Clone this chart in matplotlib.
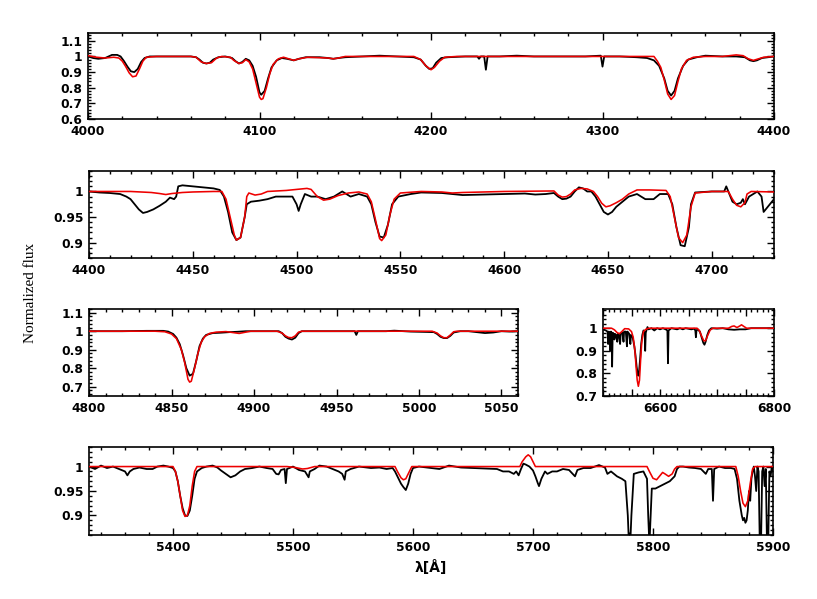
import matplotlib
matplotlib.use("Agg")
import matplotlib.pyplot as plt
from matplotlib.ticker import MultipleLocator, FuncFormatter

# ---------------- Panel 1: 4000-4400 ----------------
obs1_wl = [4000, 4003, 4006, 4010, 4014, 4017, 4019, 4021, 4023, 4025, 4027, 4029, 4031, 4033, 4036,
           4040, 4050, 4060, 4063, 4065, 4067, 4069, 4071, 4073, 4076, 4080, 4084, 4086, 4088, 4090,
           4092, 4094, 4096, 4098, 4100, 4101, 4103, 4105, 4107, 4110, 4113, 4116, 4118, 4120, 4123,
           4127, 4135, 4140, 4143, 4146, 4150, 4160, 4170, 4180, 4190, 4194, 4197, 4199, 4201, 4203,
           4206, 4210, 4220, 4227, 4228, 4229, 4231, 4232, 4233, 4240, 4250, 4260, 4270, 4280, 4290,
           4299, 4300, 4301, 4310, 4320, 4326, 4330, 4333, 4336, 4338, 4340, 4342, 4344, 4347, 4350,
           4355, 4360, 4370, 4378, 4383, 4386, 4388, 4390, 4393, 4400]
obs1_fx = [1.0, 0.99, 0.985, 0.99, 1.01, 1.01, 1.0, 0.97, 0.935, 0.905, 0.9, 0.92, 0.965, 0.99, 1.0,
           1.0, 1.0, 1.0, 0.995, 0.98, 0.96, 0.955, 0.96, 0.98, 0.995, 1.0, 0.99, 0.97, 0.955, 0.965,
           0.985, 0.975, 0.94, 0.87, 0.77, 0.755, 0.78, 0.86, 0.93, 0.975, 0.99, 0.985, 0.98, 0.975, 0.985,
           0.995, 0.995, 0.99, 0.985, 0.99, 0.995, 1.0, 1.005, 1.0, 0.995, 0.98, 0.94, 0.92, 0.925, 0.96,
           0.99, 0.995, 1.0, 1.0, 0.985, 1.0, 1.0, 0.915, 1.0, 1.0, 1.005, 1.0, 1.0, 1.0, 1.0,
           1.005, 0.935, 1.0, 1.0, 0.995, 0.99, 0.975, 0.94, 0.86, 0.78, 0.75, 0.78, 0.86, 0.94, 0.98,
           0.995, 1.005, 1.0, 1.0, 0.995, 0.975, 0.97, 0.975, 0.99, 1.0]
mod1_wl = [4000, 4005, 4010, 4015, 4018, 4020, 4022, 4024, 4026, 4028, 4030, 4032, 4034, 4040, 4060,
           4063, 4066, 4069, 4072, 4075, 4078, 4083, 4085, 4088, 4090, 4092, 4094, 4096, 4098, 4100,
           4101, 4102, 4104, 4106, 4108, 4111, 4114, 4117, 4120, 4123, 4128, 4140, 4143, 4146, 4150,
           4190, 4194, 4197, 4200, 4202, 4205, 4208, 4215, 4330, 4332, 4334, 4336, 4338, 4340, 4342,
           4344, 4346, 4349, 4353, 4360, 4370, 4374, 4378, 4382, 4385, 4388, 4391, 4394, 4400]
mod1_fx = [1.005, 0.995, 0.99, 0.995, 0.99, 0.97, 0.935, 0.895, 0.87, 0.875, 0.92, 0.97, 0.995, 1.0, 1.0,
           0.995, 0.965, 0.955, 0.96, 0.99, 1.0, 0.995, 0.975, 0.955, 0.96, 0.98, 0.965, 0.92, 0.83, 0.74,
           0.725, 0.73, 0.8, 0.89, 0.95, 0.985, 0.995, 0.985, 0.975, 0.985, 0.995, 0.99, 0.985, 0.99, 1.0,
           1.0, 0.98, 0.94, 0.915, 0.93, 0.97, 0.995, 1.0, 1.0, 0.97, 0.93, 0.85, 0.76, 0.725, 0.75,
           0.84, 0.92, 0.975, 0.995, 1.0, 1.0, 1.005, 1.01, 1.005, 0.985, 0.975, 0.985, 0.995, 1.0]

# ---------------- Panel 2: 4400-4730 ----------------
obs2_wl = [4400, 4405, 4410, 4415, 4418, 4420, 4422, 4424, 4426, 4428, 4431, 4434, 4437, 4439, 4441,
           4442, 4443, 4445, 4450, 4455, 4460, 4463, 4465, 4467, 4469, 4471, 4473, 4475, 4476, 4478,
           4482, 4486, 4490, 4495, 4498, 4500, 4501, 4502, 4504, 4507, 4510, 4514, 4518, 4522, 4526,
           4530, 4534, 4536, 4538, 4540, 4542, 4544, 4546, 4549, 4555, 4560, 4570, 4575, 4580, 4590,
           4600, 4610, 4615, 4620, 4624, 4626, 4628, 4630, 4632, 4634, 4636, 4638, 4640, 4642, 4644,
           4646, 4648, 4650, 4652, 4654, 4657, 4660, 4664, 4668, 4672, 4675, 4679, 4681, 4683, 4685,
           4687, 4689, 4690, 4692, 4700, 4706, 4707, 4708, 4710, 4712, 4714, 4715, 4716, 4718, 4722,
           4724, 4725, 4726, 4728, 4730]
obs2_fx = [1.0, 0.998, 0.997, 0.995, 0.99, 0.985, 0.975, 0.965, 0.958, 0.96, 0.965, 0.972, 0.98, 0.988, 0.985,
           0.99, 1.01, 1.012, 1.01, 1.008, 1.006, 1.003, 0.99, 0.96, 0.92, 0.905, 0.91, 0.95, 0.975, 0.98,
           0.982, 0.985, 0.99, 0.99, 0.99, 0.975, 0.962, 0.975, 0.995, 0.99, 0.99, 0.985, 0.99, 1.0, 0.99,
           0.995, 0.99, 0.975, 0.94, 0.912, 0.91, 0.935, 0.975, 0.99, 0.995, 0.998, 0.997, 0.995, 0.993, 0.994,
           0.995, 0.996, 0.994, 0.995, 0.997, 0.99, 0.985, 0.986, 0.99, 1.0, 1.008, 1.006, 1.0, 1.0, 0.99,
           0.975, 0.96, 0.955, 0.96, 0.97, 0.98, 0.99, 0.995, 0.985, 0.985, 0.995, 0.995, 0.975, 0.93, 0.895,
           0.893, 0.93, 0.975, 0.998, 1.0, 1.0, 1.01, 1.0, 0.98, 0.975, 0.978, 0.985, 0.975, 0.99, 1.0,
           0.99, 0.96, 0.965, 0.975, 0.985]
mod2_wl = [4400, 4420, 4430, 4434, 4437, 4440, 4445, 4450, 4460, 4464, 4466, 4468, 4470, 4471, 4473,
           4475, 4476, 4477, 4480, 4483, 4486, 4495, 4505, 4507, 4510, 4513, 4516, 4520, 4525, 4530,
           4534, 4536, 4538, 4540, 4541, 4543, 4545, 4547, 4550, 4560, 4570, 4575, 4580, 4600, 4624,
           4626, 4628, 4630, 4632, 4634, 4637, 4640, 4643, 4645, 4647, 4649, 4651, 4654, 4657, 4660,
           4664, 4670, 4678, 4680, 4682, 4684, 4686, 4688, 4690, 4692, 4700, 4708, 4710, 4712, 4714,
           4716, 4717, 4719, 4730]
mod2_fx = [1.0, 1.0, 0.998, 0.996, 0.994, 0.996, 0.998, 0.999, 1.0, 1.0, 0.985, 0.95, 0.915, 0.905, 0.91,
           0.95, 0.99, 0.997, 0.993, 0.995, 1.0, 1.002, 1.006, 1.004, 0.99, 0.983, 0.985, 0.992, 0.997, 0.999,
           0.995, 0.98, 0.945, 0.908, 0.904, 0.915, 0.955, 0.985, 0.997, 1.0, 0.999, 0.997, 0.998, 1.0, 1.001,
           0.993, 0.989, 0.99, 0.995, 1.003, 1.006, 1.005, 1.0, 0.99, 0.977, 0.97, 0.972, 0.978, 0.985, 0.995,
           1.003, 1.003, 1.002, 0.99, 0.95, 0.91, 0.9, 0.915, 0.97, 0.997, 1.0, 1.0, 0.985, 0.973, 0.97,
           0.978, 0.995, 1.0, 0.999]

# ---------------- Panel 3: 4800-5060 ----------------
obs3_wl = [4800, 4820, 4835, 4845, 4848, 4851, 4853, 4855, 4857, 4859, 4861, 4863, 4865, 4867, 4869,
           4871, 4875, 4880, 4885, 4890, 4895, 4905, 4915, 4917, 4919, 4921, 4923, 4925, 4927, 4929,
           4940, 4961, 4962, 4963, 4980, 4985, 4995, 5005, 5009, 5011, 5013, 5015, 5017, 5019, 5021,
           5025, 5030, 5035, 5040, 5045, 5050, 5055, 5060]
obs3_fx = [1.0, 1.0, 1.002, 1.002, 0.998, 0.985, 0.965, 0.93, 0.87, 0.8, 0.76, 0.77, 0.84, 0.92, 0.96,
           0.98, 0.99, 0.992, 0.995, 0.997, 1.0, 1.0, 1.0, 0.99, 0.97, 0.96, 0.955, 0.965, 0.99, 1.0,
           1.0, 1.0, 0.98, 1.0, 1.0, 1.003, 0.998, 0.996, 0.995, 0.985, 0.97, 0.963, 0.963, 0.975, 0.993,
           1.0, 1.0, 0.995, 0.99, 0.993, 1.0, 0.998, 1.0]
mod3_wl = [4800, 4840, 4846, 4850, 4853, 4856, 4858, 4860, 4861, 4862, 4864, 4866, 4868, 4870, 4873,
           4877, 4883, 4887, 4891, 4895, 4898, 4914, 4917, 4919, 4921, 4923, 4925, 4927, 4929, 5008,
           5011, 5013, 5015, 5017, 5019, 5021, 5023, 5060]
mod3_fx = [1.0, 1.0, 0.997, 0.985, 0.96, 0.9, 0.83, 0.74, 0.725, 0.73, 0.8, 0.88, 0.94, 0.97, 0.988,
           0.995, 0.998, 0.993, 0.988, 0.995, 1.0, 1.0, 0.99, 0.975, 0.966, 0.965, 0.975, 0.995, 1.0, 1.0,
           0.99, 0.975, 0.965, 0.965, 0.98, 0.997, 1.0, 1.0]

# ---------------- Panel 4: 6500-6800 ----------------
obs4_wl = [6500, 6505, 6508, 6509, 6510, 6512, 6513, 6514, 6515, 6516, 6517, 6519, 6520, 6521, 6523,
           6525, 6526, 6528, 6530, 6531, 6534, 6536, 6537, 6540, 6542, 6543, 6546, 6548, 6549, 6552,
           6555, 6557, 6559, 6561, 6562, 6563, 6565, 6567, 6569, 6571, 6573, 6574, 6575, 6578, 6580,
           6585, 6590, 6595, 6600, 6605, 6610, 6613, 6614, 6615, 6620, 6630, 6635, 6640, 6645, 6655,
           6660, 6662, 6663, 6664, 6666, 6670, 6673, 6676, 6678, 6680, 6683, 6686, 6690, 6700, 6710,
           6720, 6730, 6740, 6750, 6760, 6770, 6780, 6790, 6800]
obs4_fx = [0.995, 0.99, 0.985, 0.93, 0.985, 0.98, 0.9, 0.985, 0.98, 0.83, 0.98, 0.975, 0.95, 0.975, 0.97,
           0.94, 0.975, 0.97, 0.93, 0.975, 0.98, 0.94, 0.985, 0.985, 0.92, 0.985, 0.975, 0.93, 0.97, 0.96,
           0.92, 0.88, 0.83, 0.795, 0.79, 0.8, 0.86, 0.93, 0.97, 0.99, 0.985, 0.9, 0.98, 1.005, 0.995,
           1.0, 0.99, 1.0, 0.995, 1.0, 0.995, 0.99, 0.845, 0.99, 1.0, 0.995, 1.0, 0.995, 1.0, 0.995,
           0.998, 0.99, 0.96, 0.99, 0.995, 0.985, 0.96, 0.935, 0.927, 0.94, 0.97, 0.99, 1.0, 0.998, 1.0,
           0.995, 0.993, 0.995, 0.995, 1.0, 1.0, 1.0, 1.0, 1.0]
mod4_wl = [6500, 6515, 6520, 6525, 6529, 6533, 6538, 6545, 6550, 6553, 6556, 6558, 6560, 6562, 6564,
           6566, 6568, 6571, 6575, 6580, 6665, 6669, 6673, 6677, 6680, 6684, 6688, 6693, 6720, 6726,
           6730, 6735, 6740, 6743, 6747, 6752, 6800]
mod4_fx = [1.0, 1.0, 0.993, 0.98, 0.976, 0.985, 0.998, 0.997, 0.985, 0.96, 0.9, 0.83, 0.77, 0.743, 0.77,
           0.86, 0.94, 0.985, 0.995, 1.0, 1.0, 0.99, 0.965, 0.944, 0.945, 0.97, 0.992, 1.0, 1.0, 1.008,
           1.01, 1.003, 1.01, 1.015, 1.008, 1.0, 1.0]

# ---------------- Panel 5: 5330-5900 ----------------
obs5_wl = [5330, 5335, 5340, 5345, 5350, 5355, 5360, 5362, 5364, 5367, 5372, 5378, 5383, 5387, 5392,
           5396, 5400, 5402, 5404, 5406, 5408, 5410, 5412, 5414, 5416, 5418, 5420, 5424, 5428, 5433,
           5437, 5440, 5444, 5448, 5452, 5456, 5460, 5466, 5472, 5478, 5483, 5486, 5488, 5490, 5493,
           5494, 5495, 5500, 5505, 5510, 5513, 5514, 5518, 5522, 5528, 5533, 5538, 5541, 5543, 5544,
           5548, 5555, 5565, 5572, 5578, 5583, 5585, 5588, 5590, 5592, 5594, 5596, 5598, 5600, 5605,
           5615, 5622, 5630, 5640, 5650, 5660, 5670, 5675, 5680, 5684, 5686, 5688, 5690, 5692, 5694,
           5697, 5700, 5702, 5704, 5705, 5707, 5710, 5712, 5716, 5720, 5725, 5730, 5735, 5737, 5742,
           5748, 5755, 5760, 5762, 5765, 5770, 5774, 5777, 5779, 5780, 5781, 5782, 5784, 5788, 5792,
           5795, 5796, 5797, 5798, 5799, 5802, 5806, 5810, 5814, 5818, 5820, 5822, 5825, 5830, 5835,
           5840, 5844, 5846, 5849, 5850, 5851, 5855, 5860, 5865, 5868, 5870, 5872, 5874, 5875, 5876,
           5877, 5878, 5879, 5880, 5881, 5882, 5883, 5884, 5885, 5886, 5887, 5888, 5889, 5890, 5891,
           5892, 5893, 5894, 5895, 5896, 5897, 5898, 5899, 5900]
obs5_fx = [1.0, 0.995, 1.002, 0.997, 1.0, 0.995, 0.99, 0.982, 0.99, 0.995, 0.998, 0.995, 0.995, 1.0, 1.002,
           1.0, 0.997, 0.99, 0.97, 0.94, 0.915, 0.9, 0.899, 0.91, 0.94, 0.975, 0.99, 0.997, 1.0, 1.002,
           0.998, 0.992, 0.985, 0.978, 0.982, 0.99, 0.995, 0.997, 1.0, 0.997, 0.995, 0.985, 0.984, 0.993, 0.995,
           0.966, 0.995, 1.0, 0.993, 0.99, 0.978, 0.99, 0.995, 1.002, 1.0, 0.995, 0.99, 0.985, 0.973, 0.99,
           0.995, 1.0, 0.997, 0.998, 0.995, 0.997, 0.99, 0.975, 0.965, 0.958, 0.952, 0.965, 0.985, 0.997, 1.0,
           0.997, 0.995, 1.002, 0.998, 0.997, 0.996, 0.995, 0.99, 0.99, 0.985, 0.99, 0.982, 0.995, 1.006, 1.004,
           1.0, 0.992, 0.98, 0.966, 0.96, 0.975, 0.99, 0.985, 0.99, 0.99, 0.995, 0.993, 0.98, 0.993, 0.997,
           0.997, 1.003, 0.998, 0.985, 0.99, 0.98, 0.975, 0.97, 0.9, 0.84, 0.84, 0.9, 0.985, 0.988, 0.99,
           0.975, 0.9, 0.84, 0.9, 0.955, 0.955, 0.96, 0.965, 0.97, 0.98, 0.995, 1.0, 1.0, 0.998, 0.997,
           0.995, 0.985, 0.995, 0.995, 0.93, 0.995, 1.0, 0.997, 0.997, 0.995, 0.975, 0.93, 0.9, 0.89, 0.895,
           0.885, 0.89, 0.91, 0.95, 0.93, 0.975, 0.99, 1.0, 0.98, 0.95, 1.0, 0.99, 0.84, 0.84, 0.99,
           1.0, 0.96, 0.995, 0.84, 0.84, 0.99, 0.98, 1.0, 0.99]
mod5_wl = [5330, 5400, 5402, 5404, 5406, 5408, 5410, 5412, 5414, 5416, 5418, 5420, 5495, 5502, 5508,
           5512, 5518, 5585, 5587, 5590, 5592, 5594, 5597, 5599, 5689, 5691, 5694, 5696, 5698, 5700,
           5702, 5795, 5797, 5800, 5803, 5806, 5808, 5810, 5813, 5816, 5818, 5820, 5869, 5871, 5873,
           5875, 5877, 5879, 5881, 5883, 5885, 5900]
mod5_fx = [1.0, 1.0, 0.99, 0.97, 0.94, 0.91, 0.898, 0.9, 0.92, 0.96, 0.99, 1.0, 1.0, 0.998, 0.995,
           0.996, 1.0, 1.0, 0.99, 0.977, 0.973, 0.975, 0.99, 1.0, 1.0, 1.01, 1.02, 1.024, 1.02, 1.01,
           1.0, 1.0, 0.99, 0.976, 0.973, 0.982, 0.988, 0.985, 0.98, 0.985, 0.995, 1.0, 1.0, 0.98, 0.95,
           0.925, 0.918, 0.93, 0.965, 0.995, 1.0, 1.0]

W, H = 817, 599
fig = plt.figure(figsize=(W / 100, H / 100), dpi=100)

def ax_px(left, right, top, bottom):
    return fig.add_axes([left / W, 1 - bottom / H, (right - left) / W, (bottom - top) / H])

tick_font = dict(family="DejaVu Sans", weight="bold", size=8.8)

def style(ax, xlim, ylim, xmaj, xmin, ymaj, ymin, xfmt=None):
    ax.set_xlim(*xlim)
    ax.set_ylim(*ylim)
    ax.xaxis.set_major_locator(MultipleLocator(xmaj))
    ax.xaxis.set_minor_locator(MultipleLocator(xmin))
    ax.yaxis.set_major_locator(MultipleLocator(ymaj))
    ax.yaxis.set_minor_locator(MultipleLocator(ymin))
    ax.yaxis.set_major_formatter(FuncFormatter(lambda v, p: "%g" % round(v, 3)))
    if xfmt is None:
        ax.xaxis.set_major_formatter(FuncFormatter(lambda v, p: "%d" % round(v)))
    else:
        ax.xaxis.set_major_formatter(FuncFormatter(xfmt))
    ax.tick_params(which="both", direction="in", top=True, right=True, width=1.0, colors="black")
    ax.tick_params(which="major", length=5, pad=4)
    ax.tick_params(which="minor", length=2.5)
    for lab in ax.get_xticklabels() + ax.get_yticklabels():
        lab.set_fontproperties(matplotlib.font_manager.FontProperties(**tick_font))
    for s in ax.spines.values():
        s.set_linewidth(1.2)

def draw(ax, owl, ofx, mwl, mfx):
    ax.plot(owl, ofx, color="black", lw=1.3, zorder=2)
    ax.plot(mwl, mfx, color="#ee0000", lw=1.15, zorder=3)

ax1 = ax_px(88, 774, 33, 119)
draw(ax1, obs1_wl, obs1_fx, mod1_wl, mod1_fx)
style(ax1, (4000, 4400), (0.6, 1.15), 100, 20, 0.1, 0.02)

ax2 = ax_px(89, 774, 171, 258)
draw(ax2, obs2_wl, obs2_fx, mod2_wl, mod2_fx)
style(ax2, (4400, 4730), (0.87, 1.04), 50, 10, 0.05, 0.01)

ax3 = ax_px(89, 518, 309, 396)
draw(ax3, obs3_wl, obs3_fx, mod3_wl, mod3_fx)
style(ax3, (4800, 5060), (0.65, 1.12), 50, 10, 0.1, 0.02)

ax4 = ax_px(603, 774, 309, 396)
draw(ax4, obs4_wl, obs4_fx, mod4_wl, mod4_fx)
style(ax4, (6500, 6800), (0.7, 1.085), 50, 10, 0.1, 0.02,
      xfmt=lambda v, p: ("%d" % round(v)) if round(v) % 200 == 0 else "")

ax5 = ax_px(89, 773, 447, 535)
draw(ax5, obs5_wl, obs5_fx, mod5_wl, mod5_fx)
style(ax5, (5330, 5900), (0.86, 1.04), 100, 20, 0.05, 0.01)

fig.text(30 / W, 1 - 293 / H, "Normalized flux", rotation=90, ha="center", va="center",
         family="Liberation Serif", size=11)
fig.text(431 / W, 1 - 567 / H, "λ[Å]", ha="center", va="center",
         family="DejaVu Sans", weight="bold", size=10)

fig.savefig("out.png", dpi=100)
